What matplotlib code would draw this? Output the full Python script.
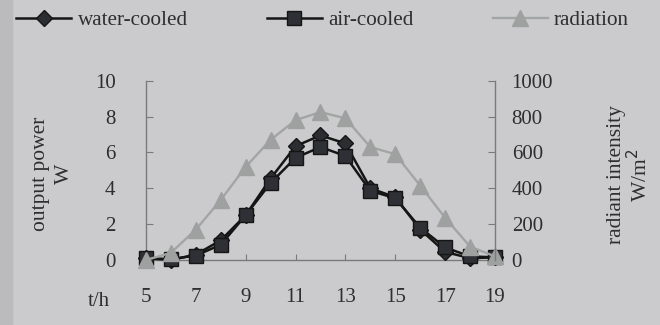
import matplotlib.pyplot as plt
from matplotlib.lines import Line2D
from matplotlib.patches import Rectangle

hours = [5, 6, 7, 8, 9, 10, 11, 12, 13, 14, 15, 16, 17, 18, 19]
water_cooled = [0.1, 0.0, 0.3, 1.1, 2.5, 4.55, 6.35, 6.95, 6.5, 4.0, 3.5, 1.7, 0.45, 0.1, 0.15]
air_cooled = [0.1, 0.05, 0.25, 0.85, 2.5, 4.3, 5.7, 6.3, 5.8, 3.85, 3.45, 1.8, 0.7, 0.2, 0.15]
radiation = [0, 40, 170, 335, 520, 670, 780, 825, 790, 630, 590, 415, 235, 75, 20]

x_ticks = [5, 7, 9, 11, 13, 15, 17, 19]
left_ticks = [0, 2, 4, 6, 8, 10]
right_ticks = [0, 200, 400, 600, 800, 1000]

bg = '#cbcbcd'
txt = '#2e2e2e'
spine = '#7a7a7a'
plt.rcParams['font.family'] = ['Liberation Serif', 'DejaVu Serif']
plt.rcParams['font.size'] = 15

fig = plt.figure(figsize=(6.6, 3.25), dpi=100, facecolor=bg)
# darker strip along the left edge of the scan
fig.patches.append(Rectangle((0, 0), 0.018, 1, transform=fig.transFigure,
                             color='#bbbbbd', zorder=0))
ax = fig.add_axes([0.2212, 0.2, 0.5288, 0.5517])
ax.set_facecolor('none')

dark = dict(color='#151515', lw=1.8, mec='#151515', clip_on=False, zorder=3)
ax.plot(hours, water_cooled, marker='D', ms=8, mfc='#2b2d30', **dark)
ax.plot(hours, air_cooled, marker='s', ms=9.5, mfc='#2e3035', **dark)

ax2 = ax.twinx()
ax2.plot(hours, radiation, color='#a3a5a4', lw=1.7, marker='^', ms=11,
         mfc='#9ea19f', mec='#9ea19f', clip_on=False, zorder=2)

ax.set_xlim(5, 19)
ax.set_ylim(0, 10)
ax2.set_ylim(0, 1000)

ax.set_xticks(x_ticks)
ax.set_yticks(left_ticks)
ax2.set_yticks(right_ticks)

for a in (ax, ax2):
    for s in a.spines.values():
        s.set_color(spine)
        s.set_linewidth(1.0)
    a.spines['top'].set_visible(False)
ax.spines['right'].set_visible(False)
ax2.spines['left'].set_visible(False)
ax2.spines['bottom'].set_visible(False)

ax.tick_params(axis='x', direction='in', length=4, color=spine, pad=20, labelcolor=txt)
ax.tick_params(axis='y', direction='in', length=5, color=spine, pad=22, labelcolor=txt)
ax2.tick_params(axis='y', direction='in', length=5, color=spine, pad=12, labelcolor=txt)

fig.text(0.062, 0.465, 'output power', rotation=90, ha='center', va='center', color=txt, fontsize=15.5)
fig.text(0.097, 0.465, 'W', rotation=90, ha='center', va='center', color=txt, fontsize=15.5)
fig.text(0.934, 0.462, 'radiant intensity', rotation=90, ha='center', va='center', color=txt, fontsize=15.5)
fig.text(0.969, 0.462, 'W/m$^2$', rotation=90, ha='center', va='center', color=txt, fontsize=15.5)
fig.text(0.15, 0.072, 't/h', ha='center', va='center', color=txt)

handles = [
    Line2D([], [], color='#151515', lw=1.8, marker='D', ms=8, mfc='#2b2d30', mec='#151515'),
    Line2D([], [], color='#151515', lw=1.8, marker='s', ms=9.5, mfc='#2e3035', mec='#151515'),
    Line2D([], [], color='#a3a5a4', lw=1.7, marker='^', ms=11, mfc='#9ea19f', mec='#9ea19f'),
]
fig.legend(handles, ['water-cooled', 'air-cooled', 'radiation'], ncol=3,
           loc='center left', bbox_to_anchor=(0.012, 0.938), frameon=False,
           fontsize=15.2, handlelength=2.6, handletextpad=0.3, columnspacing=3.75,
           borderaxespad=0, labelcolor=txt)

fig.savefig('out.png', dpi=100, facecolor=bg)
